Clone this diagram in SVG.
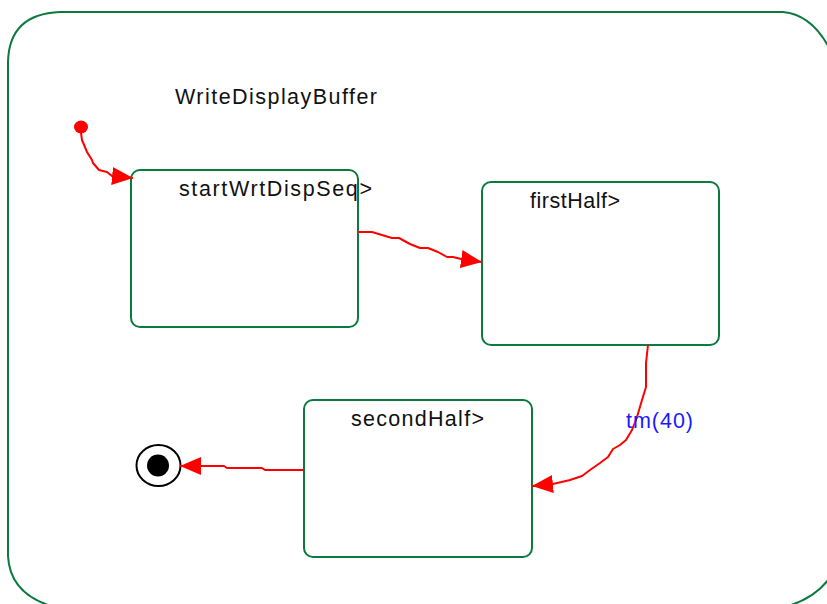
<svg xmlns="http://www.w3.org/2000/svg" width="827" height="604" viewBox="0 0 827 604">
<defs>
<style>
.state{fill:none;stroke:#0b7a3e;stroke-width:2}
.lbl{font-family:"Liberation Sans",Arial,sans-serif;font-size:21.5px;fill:#111}
.tr{fill:none;stroke:#ff0000;stroke-width:2;stroke-linejoin:round}
.guard{font-family:"Liberation Sans",Arial,sans-serif;font-size:21.5px;fill:#1a1aff}
</style>
<marker id="arr" markerUnits="userSpaceOnUse" viewBox="0 0 21 18" refX="21" refY="9" markerWidth="21" markerHeight="18" orient="auto">
<path d="M0,0 L21,9 L0,18 Z" fill="#ff0000"/>
</marker>
</defs>
<rect width="827" height="604" fill="#ffffff"/>
<g id="WriteDisplayBuffer">
<path class="state" d="M8,62 Q9,14 60,12 L783,12 C805,14 822,30 834,58 L840,520 M845,540 Q835,596 780,608 M8,62 L8,556 Q10,596 58,608"/>
<text class="lbl" x="175" y="104" textLength="202" lengthAdjust="spacing">WriteDisplayBuffer</text>
</g>
<g id="initial">
<ellipse cx="81" cy="127" rx="7" ry="6.5" fill="#ff0000"/>
</g>
<g id="startWrtDispSeq">
<rect class="state" x="131" y="170" width="227" height="157" rx="9"/>
<text class="lbl" x="179" y="196" textLength="193" lengthAdjust="spacing">startWrtDispSeq&gt;</text>
</g>
<g id="firstHalf">
<rect class="state" x="482" y="182" width="237" height="163" rx="9"/>
<text class="lbl" x="530" y="208" textLength="90" lengthAdjust="spacing">firstHalf&gt;</text>
</g>
<g id="secondHalf">
<rect class="state" x="304" y="400" width="228" height="157" rx="9"/>
<text class="lbl" x="351" y="426" textLength="133" lengthAdjust="spacing">secondHalf&gt;</text>
</g>
<g id="final">
<ellipse cx="158.5" cy="465.5" rx="22" ry="20.5" fill="#ffffff" stroke="#000" stroke-width="2"/>
<circle cx="158" cy="465.5" r="11" fill="#000"/>
</g>
<g id="connectors">
<path class="tr" marker-end="url(#arr)" d="M81,133 L82,140 L87,152 L92,160 L93,163 L99,170 L107,172 L112,176 L133,178"/>
<path class="tr" marker-end="url(#arr)" d="M358,232 L372,232 L392,238 L399,238 L410,244 L420,248 L428,248 L438,252 L447,257 L453,257 L461,259 L482,262"/>
<path class="tr" marker-end="url(#arr)" d="M648,345 L646,363 L646,387 L642,400 L637,417 L632,430 L626,440 L620,445 L613,449 L608,457 L600,463 L590,470 L582,476 L570,480 L553,484 L532,486"/>
<text class="guard" x="626" y="428" textLength="67" lengthAdjust="spacing">tm(40)</text>
<path class="tr" marker-end="url(#arr)" d="M304,470 L265,470 L262,468 L227,468 L224,466 L180,466"/>
</g>
</svg>
